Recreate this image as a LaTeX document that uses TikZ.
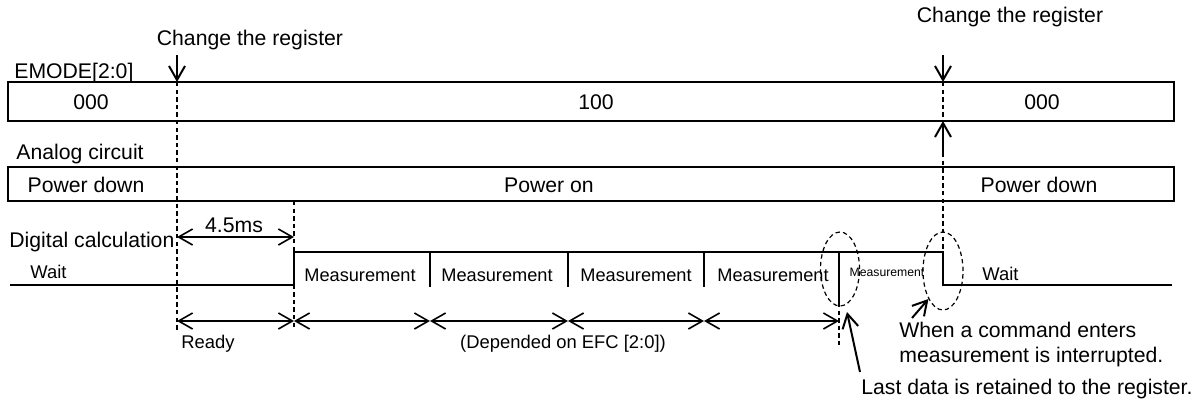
\documentclass[tikz,border=0pt]{standalone}
\usepackage{fontspec}
\setmainfont{Liberation Sans}
\usetikzlibrary{arrows.meta, shapes.geometric}

\begin{document}
\begin{tikzpicture}[x=0.5pt, y=-0.5pt, >={Straight Barb[length=7pt, width=8pt]},
		font=\fontsize{10.6}{12.5}\selectfont,
		lbl/.style={inner sep=0pt},
		note/.style={inner sep=0pt, font=\fontsize{9.2}{11}\selectfont},
		meas/.style={inner sep=0pt, font=\fontsize{9.1}{10}\selectfont},
		small/.style={inner sep=0pt, font=\fontsize{6.1}{7}\selectfont},
		rowbox/.style={draw=black, line width=0.6pt},
		sig/.style={line width=1.2pt},
		guide/.style={line width=0.6pt, dash pattern=on 2.2pt off 1.6pt},
		dim/.style={line width=0.8pt, <->},
		call/.style={line width=1pt, ->},
		ring/.style={ellipse, draw=black, line width=0.6pt, dash pattern=on 2.2pt off 1.6pt, inner sep=0pt}]
		\useasboundingbox (0,0) rectangle (1200,402);
		
		\def\xleft{8}
		\def\xright{1174}
		\def\tA{177}
		\def\tB{294}
		\def\tC{430}
		\def\tD{568}
		\def\tE{704}
		\def\tF{839}
		\def\tG{943}
		\def\yhi{252}
		\def\ylo{285}
		\def\ydim{321}
		
		% Rows
		\draw[rowbox] (\xleft,82) rectangle (\xright,121);
		\draw[rowbox] (\xleft,167) rectangle (\xright,201);
		
		\node[lbl, anchor=west] (emode) at (14,73) {EMODE[2:0]};
		\node[lbl] (e0) at (91,102) {000};
		\node[lbl] (e1) at (596,102) {100};
		\node[lbl] (e2) at (1042,102) {000};
		
		\node[lbl, anchor=west] (analog) at (16,154) {Analog circuit};
		\node[lbl] (a0) at (86,185) {Power down};
		\node[lbl] (a1) at (549,185) {Power on};
		\node[lbl] (a2) at (1039,185) {Power down};
		
		\node[lbl, anchor=west] (digital) at (9,242) {Digital calculation};
		
		% Register changes
		\node[lbl] (chgA) at (250,40) {Change the register};
		\node[lbl] (chgB) at (1010,17) {Change the register};
		\coordinate (chgAtail) at (\tA,55);
		\coordinate (chgAtip) at (\tA,82);
		\coordinate (chgBtail) at (\tG,55);
		\coordinate (chgBtip) at (\tG,82);
		\coordinate (upTail) at (\tG,153);
		\coordinate (upTip) at (\tG,121);
		\draw[call] (chgAtail) -- (chgAtip);
		\draw[call] (chgBtail) -- (chgBtip);
		\draw[call] (upTail) -- (upTip);
		
		% Guides
		\draw[guide] (\tA,82) -- (\tA,330);
		\draw[guide] (\tB,201) -- (\tB,330);
		\draw[guide] (\tG,82) -- (\tG,121);
		\draw[guide] (\tG,153) -- (\tG,\yhi);
		\draw[guide] (\tF,303) -- (\tF,345);
		
		% Signal
		\draw[sig] (10,\ylo) -- (\tB,\ylo) -- (\tB,\yhi) -- (\tG,\yhi) -- (\tG,\ylo) -- (1172,\ylo);
		\foreach \t in {\tC,\tD,\tE}
			\draw[sig] (\t,\yhi) -- (\t,287);
		\draw[sig] (\tF,\yhi) -- (\tF,303);
		
		\node[note, anchor=west] (waitA) at (30,272) {Wait};
		\node[note, anchor=west] (waitB) at (982,274) {Wait};
		\node[meas] (m1) at (360,275) {Measurement};
		\node[meas] (m2) at (497,275) {Measurement};
		\node[meas] (m3) at (636,275) {Measurement};
		\node[meas] (m4) at (773,275) {Measurement};
		\node[small] (m5) at (887,272) {Measurement};
		
		% Durations
		\coordinate (dA) at (\tA,\ydim);
		\coordinate (dB) at (\tB,\ydim);
		\coordinate (dC) at (\tC,\ydim);
		\coordinate (dD) at (\tD,\ydim);
		\coordinate (dE) at (\tE,\ydim);
		\coordinate (dF) at (\tF,\ydim);
		\coordinate (wA) at (\tA,237);
		\coordinate (wB) at (\tB,237);
		\draw[dim] (wA) -- (wB);
		\node[lbl] (wait45) at (234,225) {4.5ms};
		\draw[dim] (dA) -- (dB);
		\draw[dim] (dB) -- (dC);
		\draw[dim] (dC) -- (dD);
		\draw[dim] (dD) -- (dE);
		\draw[dim] (dE) -- (dF);
		\node[note, anchor=west] (ready) at (181,344) {Ready};
		\node[note] (efc) at (563,344) {(Depended on EFC [2:0])};
		
		% Notes
		\node[ring, minimum width=19.5pt, minimum height=37pt] (ringF) at (840,269) {};
		\node[ring, minimum width=20pt, minimum height=39pt] (ringG) at (943,271) {};
		\node[lbl, align=left, anchor=west] (cmd) at (899,345) {When a command enters\\measurement is interrupted.};
		\node[lbl, anchor=west] (last) at (861,389) {Last data is retained to the register.};
		\coordinate (cmdTail) at (912,318);
		\coordinate (lastTail) at (860,372);
		\coordinate (lastTip) at (847,312);
		\draw[call] (cmdTail) -- (ringG.south west);
		\draw[call] (lastTail) -- (lastTip);
\end{tikzpicture}
\end{document}
